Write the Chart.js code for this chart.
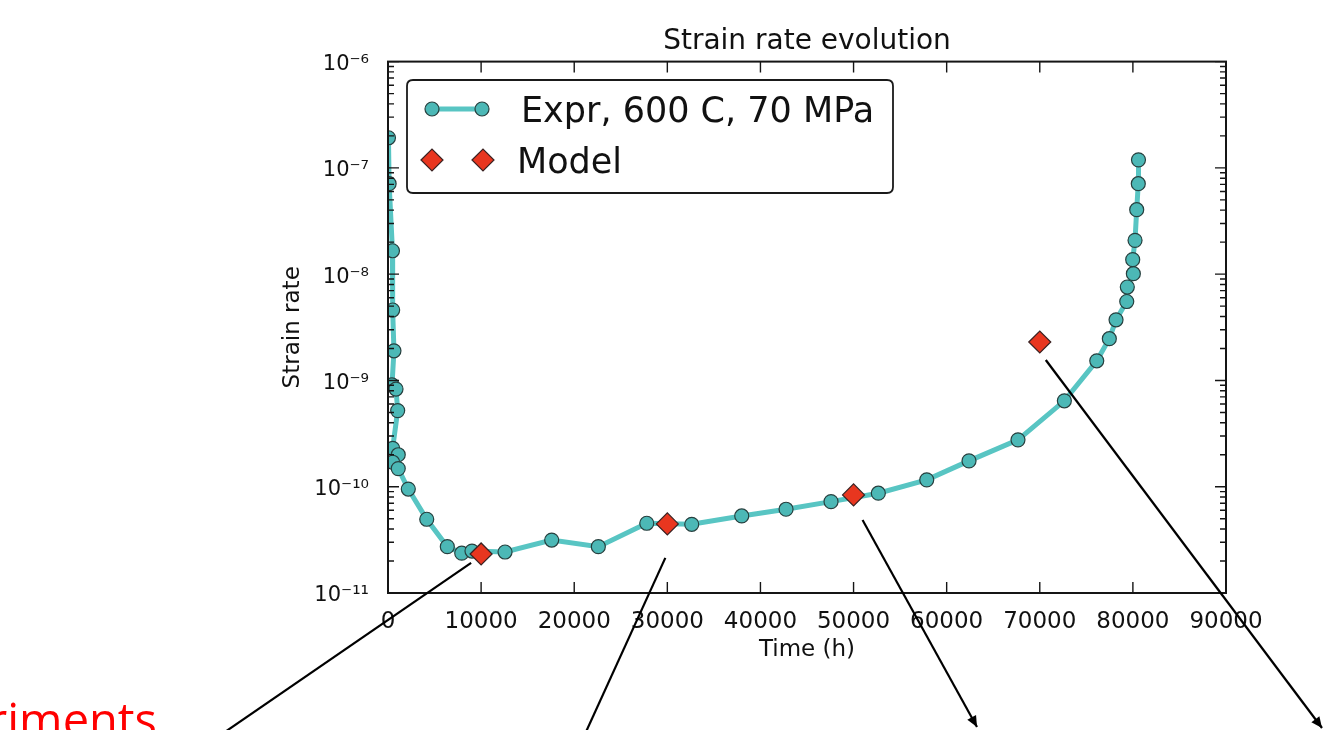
<!DOCTYPE html>
<html><head><meta charset="utf-8">
<script src="https://cdn.jsdelivr.net/npm/chart.js@4.4.1/dist/chart.umd.min.js"></script>
<style>html,body{margin:0;padding:0;background:#fff;overflow:hidden}#wrap{width:1326px;height:730px;position:relative}</style>
</head><body><div id="wrap"><canvas id="c" width="1326" height="730"></canvas></div>
<script>
// ---- data ----
const expTime = [50, 120, 480, 500, 640, 430, 860, 1040, 500, 1100, 500, 1100, 2180, 4160, 6370, 7920, 9020, 12570, 17580, 22590, 27790, 32620, 37990, 42750, 47580, 52660, 57860, 62400, 67660, 72640, 76120, 77470, 78190, 79340, 79400, 80050, 79980, 80230, 80410, 80580, 80600];
const expRate = [1.92e-7, 7.1e-8, 1.66e-8, 4.6e-9, 1.9e-9, 9.1e-10, 8.3e-10, 5.2e-10, 2.3e-10, 2.0e-10, 1.7e-10, 1.48e-10, 9.5e-11, 4.94e-11, 2.73e-11, 2.37e-11, 2.48e-11, 2.43e-11, 3.15e-11, 2.73e-11, 4.53e-11, 4.43e-11, 5.31e-11, 6.14e-11, 7.24e-11, 8.69e-11, 1.16e-10, 1.75e-10, 2.76e-10, 6.43e-10, 1.53e-9, 2.47e-9, 3.72e-9, 5.53e-9, 7.57e-9, 1.01e-8, 1.37e-8, 2.08e-8, 4.04e-8, 7.1e-8, 1.19e-7];
const modelTime = [10000, 30000, 50000, 70000];
const modelRate = [2.33e-11, 4.47e-11, 8.37e-11, 2.30e-9];
const xTickValues = [0, 10000, 20000, 30000, 40000, 50000, 60000, 70000, 80000, 90000];
const yTickValues = [1e-11, 1e-10, 1e-9, 1e-8, 1e-7, 1e-6];
const yTickLabels = ['10\u207B\u00B9\u00B9', '10\u207B\u00B9\u2070', '10\u207B\u2079', '10\u207B\u2078', '10\u207B\u2077', '10\u207B\u2076'];
const seriesNames = ['Expr, 600 C, 70 MPa', 'Model'];
const chartTitle = 'Strain rate evolution';
const xTitle = 'Time (h)';
const yTitle = 'Strain rate';
const sideNote = 'Experiments';

// ---- styles ----
const TEAL_LINE = '#58c5c3', TEAL_FILL = '#4cb8b6', TEAL_EDGE = '#27403f';
const RED_FILL = '#e8361f', RED_EDGE = '#3a2222';
const FONT = 'DejaVu Sans';

const frameTicks = {
  id: 'frameTicks',
  afterDatasetsDraw(chart) {
    const {ctx, chartArea: a, scales: {x, y}} = chart;
    ctx.save();
    ctx.strokeStyle = '#151515';
    ctx.lineWidth = 1.4;
    ctx.beginPath();
    xTickValues.forEach(v => {
      const px = x.getPixelForValue(v);
      ctx.moveTo(px, a.bottom); ctx.lineTo(px, a.bottom - 11);
      ctx.moveTo(px, a.top); ctx.lineTo(px, a.top + 11);
    });
    yTickValues.forEach((d, i) => {
      const py = y.getPixelForValue(d);
      ctx.moveTo(a.left, py); ctx.lineTo(a.left + 11, py);
      ctx.moveTo(a.right, py); ctx.lineTo(a.right - 11, py);
      if (i < yTickValues.length - 1) {
        for (let k = 2; k <= 9; k++) {
          const pm = y.getPixelForValue(d * k);
          ctx.moveTo(a.left, pm); ctx.lineTo(a.left + 6, pm);
          ctx.moveTo(a.right, pm); ctx.lineTo(a.right - 6, pm);
        }
      }
    });
    ctx.stroke();
    ctx.lineWidth = 2;
    ctx.strokeRect(a.left, a.top, a.right - a.left, a.bottom - a.top);
    ctx.restore();
  }
};

const mplLegend = {
  id: 'mplLegend',
  afterDatasetsDraw(chart) {
    const ctx = chart.ctx;
    const bx = 407, by = 80, bw = 486, bh = 113, r = 6;
    ctx.save();
    ctx.beginPath();
    ctx.moveTo(bx + r, by); ctx.lineTo(bx + bw - r, by); ctx.quadraticCurveTo(bx + bw, by, bx + bw, by + r);
    ctx.lineTo(bx + bw, by + bh - r); ctx.quadraticCurveTo(bx + bw, by + bh, bx + bw - r, by + bh);
    ctx.lineTo(bx + r, by + bh); ctx.quadraticCurveTo(bx, by + bh, bx, by + bh - r);
    ctx.lineTo(bx, by + r); ctx.quadraticCurveTo(bx, by, bx + r, by);
    ctx.closePath();
    ctx.fillStyle = '#fff'; ctx.fill();
    ctx.strokeStyle = '#1a1a1a'; ctx.lineWidth = 1.8; ctx.stroke();
    // Expr row
    ctx.strokeStyle = TEAL_LINE; ctx.lineWidth = 5;
    ctx.beginPath(); ctx.moveTo(432, 109); ctx.lineTo(482, 109); ctx.stroke();
    ctx.fillStyle = TEAL_FILL; ctx.strokeStyle = TEAL_EDGE; ctx.lineWidth = 1.2;
    [432, 482].forEach(px => Chart.helpers.drawPoint(ctx, {pointStyle: 'circle', radius: 7, borderWidth: 1.2, rotation: 0}, px, 109));
    // Model row
    ctx.fillStyle = RED_FILL; ctx.strokeStyle = RED_EDGE; ctx.lineWidth = 1.2;
    [432, 483].forEach(px => Chart.helpers.drawPoint(ctx, {pointStyle: 'rectRot', radius: 11, borderWidth: 1.2, rotation: 0}, px, 160));
    ctx.fillStyle = '#111';
    ctx.font = '35px "' + FONT + '"';
    ctx.textAlign = 'left'; ctx.textBaseline = 'alphabetic';
    ctx.fillText(seriesNames[0], 521, 122);
    ctx.fillText(seriesNames[1], 517, 173);
    ctx.restore();
  }
};

// arrows from model points to the slide below (annotation, anchored to model data)
const arrowNotes = [
  {i: 0, dx: -10, dy: 9, ex: 206, ey: 745, head: false},
  {i: 1, dx: -2, dy: 34, ex: 580, ey: 745, head: false},
  {i: 2, dx: 9, dy: 25, ex: 977, ey: 727, head: true},
  {i: 3, dx: 6, dy: 18, ex: 1322, ey: 728, head: true}
];
const slideNotes = {
  id: 'slideNotes',
  afterDraw(chart) {
    const {ctx, scales: {x, y}} = chart;
    ctx.save();
    ctx.strokeStyle = '#000'; ctx.fillStyle = '#000'; ctx.lineWidth = 2.2;
    arrowNotes.forEach(n => {
      const sx = x.getPixelForValue(modelTime[n.i]) + n.dx;
      const sy = y.getPixelForValue(modelRate[n.i]) + n.dy;
      ctx.beginPath(); ctx.moveTo(sx, sy); ctx.lineTo(n.ex, n.ey); ctx.stroke();
      if (n.head) {
        const ang = Math.atan2(n.ey - sy, n.ex - sx);
        const L = 11, W = 5;
        ctx.beginPath();
        ctx.moveTo(n.ex, n.ey);
        ctx.lineTo(n.ex - L * Math.cos(ang) + W * Math.sin(ang), n.ey - L * Math.sin(ang) - W * Math.cos(ang));
        ctx.lineTo(n.ex - L * Math.cos(ang) - W * Math.sin(ang), n.ey - L * Math.sin(ang) + W * Math.cos(ang));
        ctx.closePath(); ctx.fill();
      }
    });
    ctx.fillStyle = '#ff0000';
    ctx.font = '47px "Open Sans"';
    ctx.textAlign = 'right'; ctx.textBaseline = 'alphabetic';
    ctx.fillText(sideNote, 157, 737);
    ctx.restore();
  }
};

new Chart(document.getElementById('c'), {
  type: 'line',
  data: {
    datasets: [
      {
        label: seriesNames[1],
        data: modelTime.map((t, i) => ({x: t, y: modelRate[i]})),
        showLine: false,
        pointStyle: 'rectRot', pointRadius: 11,
        pointBackgroundColor: RED_FILL, pointBorderColor: RED_EDGE, pointBorderWidth: 1.2,
        order: 0, clip: 0
      },
      {
        label: seriesNames[0],
        data: expTime.map((t, i) => ({x: t, y: expRate[i]})),
        borderColor: TEAL_LINE, borderWidth: 5, tension: 0, fill: false,
        pointStyle: 'circle', pointRadius: 7,
        pointBackgroundColor: TEAL_FILL, pointBorderColor: TEAL_EDGE, pointBorderWidth: 1.2,
        order: 1, clip: 0
      }
    ]
  },
  options: {
    responsive: false, animation: false, devicePixelRatio: 1,
    layout: {padding: {left: 0, right: 100, top: 0, bottom: 0}},
    plugins: {
      legend: {display: false}, tooltip: {enabled: false},
      title: {display: true, text: chartTitle, fullSize: false, color: '#111',
        font: {family: FONT, size: 28, weight: 'normal'}, padding: {top: 25, bottom: 3}}
    },
    scales: {
      x: {
        type: 'linear', min: 0, max: 90000,
        grid: {display: false}, border: {display: false},
        afterBuildTicks: s => { s.ticks = xTickValues.map(v => ({value: v})); },
        ticks: {autoSkip: false, maxRotation: 0, color: '#111', padding: 7,
          font: {family: FONT, size: 23}, callback: v => String(v)},
        title: {display: true, text: xTitle, color: '#111', font: {family: FONT, size: 23}, padding: {top: 0, bottom: 66}},
        afterFit: s => { s.height = 137; }
      },
      y: {
        type: 'logarithmic', min: 1e-11, max: 1e-6,
        grid: {display: false}, border: {display: false},
        afterBuildTicks: s => { s.ticks = yTickValues.map(v => ({value: v})); },
        ticks: {autoSkip: false, color: '#111', padding: 11, labelOffset: 3,
          font: {family: FONT, size: 21},
          callback: v => { const i = yTickValues.indexOf(v); return i >= 0 ? yTickLabels[i] : ''; }},
        title: {display: true, text: yTitle, color: '#111', font: {family: FONT, size: 23}, padding: {top: 279, bottom: 0}},
        afterFit: s => { s.width = 388; }
      }
    }
  },
  plugins: [frameTicks, mplLegend, slideNotes]
});
</script></body></html>
